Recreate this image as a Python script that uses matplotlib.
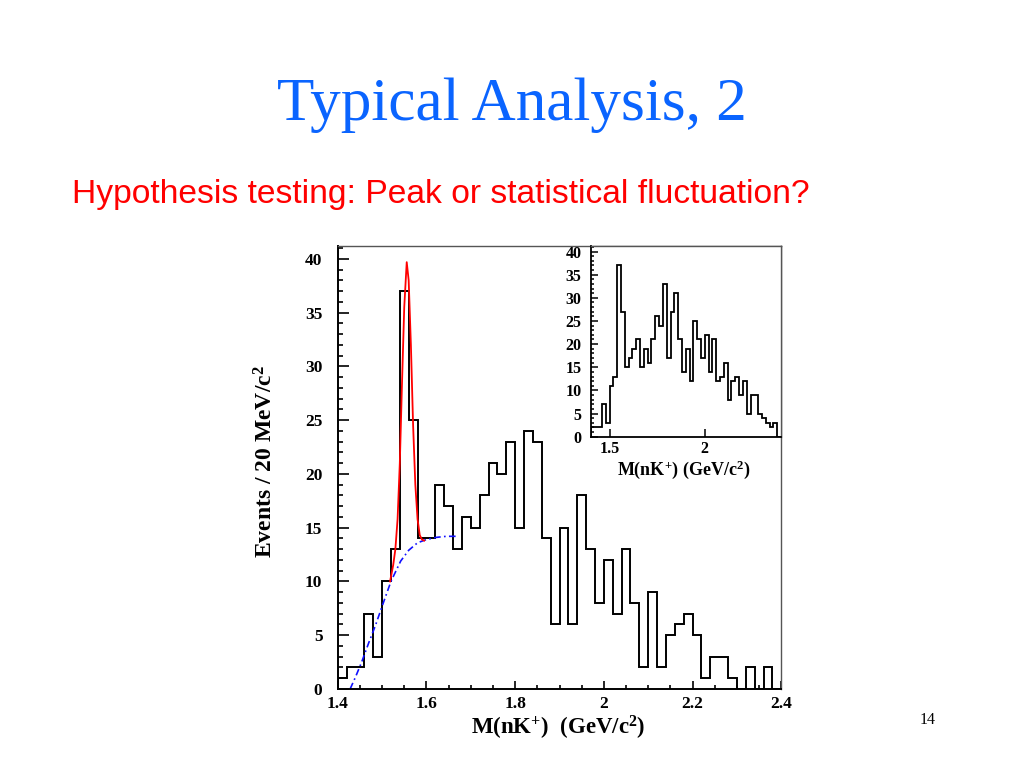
import numpy as np
import matplotlib
matplotlib.use("Agg")
import matplotlib.pyplot as plt
from matplotlib.ticker import MultipleLocator

plt.rcParams['mathtext.fontset'] = 'custom'
plt.rcParams['mathtext.rm'] = 'Liberation Serif:bold'
plt.rcParams['mathtext.bf'] = 'Liberation Serif:bold'
plt.rcParams['mathtext.it'] = 'Liberation Serif:bold'

# ---------------- data ----------------
mass_lo = 1.40
bin_w = 0.02
n_bins = 50
mass_edges = np.round(mass_lo + bin_w * np.arange(n_bins + 1), 3)

main_counts = [1, 2, 2, 7, 3, 10, 13, 37, 25, 14,
               14, 19, 17, 13, 16, 15, 18, 21, 20, 23,
               15, 24, 23, 14, 6, 15, 6, 18, 13, 8,
               12, 7, 13, 8, 2, 9, 2, 5, 6, 7,
               5, 1, 3, 3, 1, 0, 2, 0, 2, 0]

inset_counts = [2, 2, 2, 7, 3, 11, 13, 37, 27, 15,
                17, 19, 21, 15, 19, 16, 21, 26, 24, 33,
                17, 27, 31, 21, 14, 19, 12, 25, 21, 17,
                22, 14, 21, 12, 13, 16, 8, 12, 13, 9,
                12, 5, 9, 9, 5, 4, 3, 2, 3, 0]

# fitted background (blue dash-dot)
bkg_x = [1.428, 1.440, 1.454, 1.470, 1.485, 1.501, 1.520, 1.542,
         1.560, 1.580, 1.600, 1.622, 1.645, 1.672]
bkg_y = [0.0, 1.1, 2.5, 4.3, 5.9, 7.8, 10.0, 11.9,
         12.9, 13.6, 13.9, 14.1, 14.2, 14.2]

# signal + background fit (red)
fit_x = [1.518, 1.525, 1.530, 1.535, 1.540, 1.545, 1.550, 1.5556,
         1.560, 1.565, 1.570, 1.575, 1.580, 1.585, 1.590, 1.595]
fit_y = [10.0, 11.5, 13.0, 15.8, 21.0, 28.5, 35.5, 39.7,
         38.0, 32.0, 24.5, 19.0, 15.8, 14.3, 13.9, 13.8]

main_xticks = [1.4, 1.6, 1.8, 2.0, 2.2, 2.4]
main_xticklabels = ['1.4', '1.6', '1.8', '2', '2.2', '2.4']
yticks = [0, 5, 10, 15, 20, 25, 30, 35, 40]
inset_xticks = [1.5, 2.0]
inset_xticklabels = ['1.5', '2']

title = 'Typical Analysis, 2'
subtitle = 'Hypothesis testing: Peak or statistical fluctuation?'
ylabel = r'Events / 20 MeV/c$^{2}$'
xlabel_main = r'M(nK$^{+}$)  (GeV/c$^{2}$)'
xlabel_inset = r'M(nK$^{+}$) (GeV/c$^{2}$)'
page_no = '14'

# ---------------- figure ----------------
W, H = 1024, 768
fig = plt.figure(figsize=(W / 100, H / 100), dpi=100)
fig.patch.set_facecolor('white')

def fx(px):
    return px / W

def fy(py):
    return 1 - py / H

serif = 'Liberation Serif'

fig.text(fx(512), fy(120), title, ha='center', va='baseline',
         fontsize=44, family=serif, color='#0a64ff')
fig.text(fx(72), fy(203), subtitle, ha='left', va='baseline',
         fontsize=24.2, family='Liberation Sans', color='#ff0000')
fig.text(fx(928), fy(724), page_no, ha='center', va='baseline',
         fontsize=11.5, family=serif, color='black')

# main axes
L, R, T, B = 337.7, 781.3, 246, 689
ax = fig.add_axes([fx(L), fy(B), (R - L) / W, (B - T) / H])
ax.stairs(main_counts, mass_edges, color='black', lw=1.4, baseline=0)
ax.plot(bkg_x, bkg_y, color='#1010ff', lw=1.2, ls=(0, (4, 2, 1, 2)))
ax.plot(fit_x, fit_y, color='#ff0000', lw=1.3)
ax.set_xlim(1.4, 2.4)
ax.set_ylim(0, 41.2)
ax.set_xticks(main_xticks)
ax.set_xticklabels(main_xticklabels)
ax.set_yticks(yticks)
ax.set_yticklabels([str(v) for v in yticks])
ax.xaxis.set_minor_locator(MultipleLocator(0.05))
ax.yaxis.set_minor_locator(MultipleLocator(1))
ax.tick_params(axis='both', which='both', direction='in', top=False, right=False,
               colors='black', width=1.2)
ax.tick_params(axis='x', which='major', length=6, pad=5)
ax.tick_params(axis='x', which='minor', length=3)
ax.tick_params(axis='y', which='major', length=8, pad=11)
ax.tick_params(axis='y', which='minor', length=3.6)
for lab in ax.get_xticklabels() + ax.get_yticklabels():
    lab.set_fontfamily(serif)
    lab.set_fontweight('bold')
    lab.set_fontsize(12.5)
for s in ['left', 'bottom']:
    ax.spines[s].set_linewidth(1.4)
    ax.spines[s].set_color('black')
for s in ['top', 'right']:
    ax.spines[s].set_linewidth(1.0)
    ax.spines[s].set_color('#555555')

fig.text(fx(266), fy(462), ylabel, rotation=90, ha='center', va='center',
         fontsize=17, family=serif, fontweight='bold')
fig.text(fx(558), fy(728), xlabel_main, ha='center', va='center',
         fontsize=16.5, family=serif, fontweight='bold')

# inset axes
iL, iR, iT, iB = 590.5, 781.0, 246, 436.7
axi = fig.add_axes([fx(iL), fy(iB), (iR - iL) / W, (iB - iT) / H])
axi.stairs(inset_counts, mass_edges, color='black', lw=1.3, baseline=0)
axi.set_xlim(1.4, 2.4)
axi.set_ylim(0, 41.2)
axi.set_xticks(inset_xticks)
axi.set_xticklabels(inset_xticklabels)
axi.set_yticks(yticks)
axi.set_yticklabels([str(v) for v in yticks])
axi.yaxis.set_minor_locator(MultipleLocator(1))
axi.tick_params(axis='both', which='both', direction='in', top=False, right=False,
                colors='black', width=1.1)
axi.tick_params(axis='x', which='major', length=5.5, pad=3)
axi.tick_params(axis='y', which='major', length=5, pad=6.5)
axi.tick_params(axis='y', which='minor', length=2.4)
for lab in axi.get_xticklabels() + axi.get_yticklabels():
    lab.set_fontfamily(serif)
    lab.set_fontweight('bold')
    lab.set_fontsize(11.5)
for s in ['left', 'bottom']:
    axi.spines[s].set_linewidth(1.3)
    axi.spines[s].set_color('black')
for s in ['top', 'right']:
    axi.spines[s].set_linewidth(1.0)
    axi.spines[s].set_color('#555555')

fig.text(fx(684), fy(470), xlabel_inset, ha='center', va='center',
         fontsize=13, family=serif, fontweight='bold')

fig.savefig('out.png', dpi=100, facecolor='white')
